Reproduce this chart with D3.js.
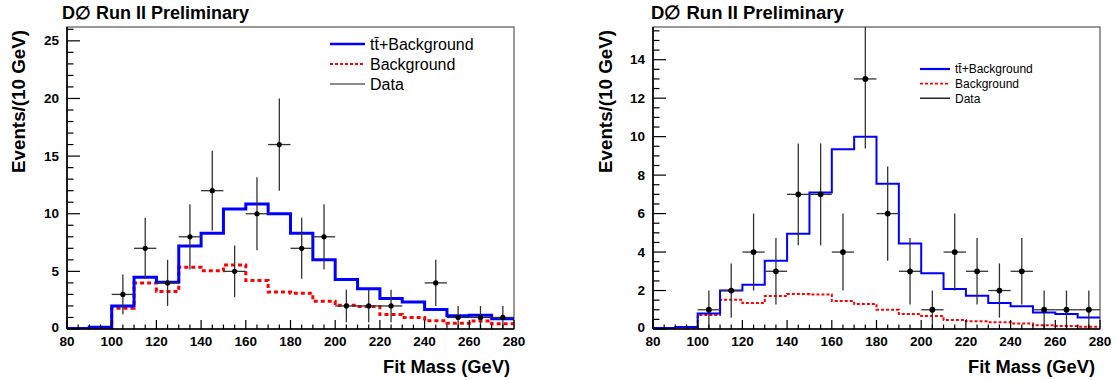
<!DOCTYPE html>
<html>
<head>
<meta charset="utf-8">
<script src="https://cdn.jsdelivr.net/npm/d3@7"></script>
<style>
  html, body { margin: 0; padding: 0; background: #fff; }
  svg { display: block; }
  text { font-family: "Liberation Sans", Arial, Helvetica, sans-serif; }
</style>
</head>
<body>
<svg id="chart" width="1117" height="380"></svg>
<script>
// Fit-mass histograms: lower bin edges (10 GeV bins, 80-280 GeV)
const binLow = [80, 90, 100, 110, 120, 130, 140, 150, 160, 170, 180, 190, 200, 210, 220, 230, 240, 250, 260, 270];
const binWidth = 10;

// Left selection
const leftSignalBkg = [0.05, 0.15, 2.0, 4.5, 4.05, 7.2, 8.3, 10.4, 10.85, 10.0, 8.3, 6.0, 4.3, 3.5, 2.65, 2.35, 1.7, 1.15, 1.2, 0.9];
const leftBkg       = [0.02, 0.1, 1.8, 4.0, 3.25, 5.35, 5.05, 5.55, 4.2, 3.2, 3.1, 2.4, 2.05, 1.95, 1.25, 1.0, 0.72, 0.5, 0.7, 0.45];
const leftData      = [0, 0, 3, 7, 4, 8, 12, 5, 10, 16, 7, 8, 2, 2, 2, 0, 4, 1, 1, 1];
const leftErr       = [0, 0, 1.73, 2.65, 2, 2.83, 3.46, 2.24, 3.16, 4, 2.65, 2.83, 1.41, 1.41, 1.41, 0, 2, 1, 1, 1];

// Right selection
const rightSignalBkg = [0.05, 0.1, 0.8, 2.0, 2.3, 3.55, 4.95, 7.1, 9.35, 10.0, 7.55, 4.45, 2.9, 2.08, 1.73, 1.35, 1.18, 0.86, 0.78, 0.6];
const rightBkg       = [0.02, 0.05, 0.73, 1.52, 1.35, 1.72, 1.82, 1.8, 1.45, 1.3, 1.0, 0.78, 0.68, 0.47, 0.4, 0.35, 0.28, 0.2, 0.15, 0.12];
const rightData      = [0, 0, 1, 2, 4, 3, 7, 7, 4, 13, 6, 3, 1, 4, 3, 2, 3, 1, 1, 1];
const rightErr       = [0, 0, 1, 1.41, 2, 1.73, 2.65, 2.65, 2, 3.61, 2.45, 1.73, 1, 2, 1.73, 1.41, 1.73, 1, 1, 1];

// Axis labels
const xTickLabels = [80, 100, 120, 140, 160, 180, 200, 220, 240, 260, 280];
const leftYTickLabels = [0, 5, 10, 15, 20, 25];
const rightYTickLabels = [0, 2, 4, 6, 8, 10, 12, 14];
const titleText = "D\u2205 Run II Preliminary";
const yTitle = "Events/(10 GeV)";
const xTitle = "Fit Mass (GeV)";
const legendLabels = ["t\u0304+Background", "Background", "Data"];

const svg = d3.select("#chart");

function drawPanel(cfg, id) {
  const g = svg.append("g");
  const x = d3.scaleLinear().domain([80, 280]).range([cfg.x0, cfg.x1]);
  const y = d3.scaleLinear().domain([0, cfg.yMax]).range([cfg.y1, cfg.y0]);

  const clipId = "clip-" + id;
  svg.append("clipPath").attr("id", clipId)
    .append("rect").attr("x", cfg.x0).attr("y", cfg.y0)
    .attr("width", cfg.x1 - cfg.x0).attr("height", cfg.y1 - cfg.y0);

  // frame
  g.append("rect").attr("x", cfg.x0).attr("y", cfg.y0)
    .attr("width", cfg.x1 - cfg.x0).attr("height", cfg.y1 - cfg.y0)
    .attr("fill", "none").attr("stroke", "#555").attr("stroke-width", 1.2);

  const plot = g.append("g").attr("clip-path", `url(#${clipId})`);

  // histograms as steps
  const stepPts = vals => binLow.map((b, i) => [b, vals[i]]).concat([[binLow[binLow.length - 1] + binWidth, vals[vals.length - 1]]]);
  const step = d3.line().x(d => x(d[0])).y(d => y(d[1])).curve(d3.curveStepAfter);

  plot.append("path").attr("d", step(stepPts(cfg.bkg)))
    .attr("fill", "none").attr("stroke", "#ff0000").attr("stroke-width", cfg.histW)
    .attr("stroke-dasharray", cfg.dash);
  plot.append("path").attr("d", step(stepPts(cfg.sig)))
    .attr("fill", "none").attr("stroke", "#0000ff").attr("stroke-width", cfg.histW);

  // data points with error bars
  const pts = binLow.map((b, i) => ({ c: b + binWidth / 2, v: cfg.data[i], e: cfg.err[i] })).filter(d => d.v > 0);
  const dg = plot.append("g").attr("stroke", cfg.errColor).attr("stroke-width", 1.3);
  dg.selectAll("line.v").data(pts).join("line").attr("class", "v")
    .attr("x1", d => x(d.c)).attr("x2", d => x(d.c))
    .attr("y1", d => y(d.v - d.e)).attr("y2", d => y(d.v + d.e));
  dg.selectAll("line.h").data(pts).join("line").attr("class", "h")
    .attr("x1", d => x(d.c - binWidth / 2)).attr("x2", d => x(d.c + binWidth / 2))
    .attr("y1", d => y(d.v)).attr("y2", d => y(d.v));
  plot.selectAll("circle").data(pts).join("circle")
    .attr("cx", d => x(d.c)).attr("cy", d => y(d.v)).attr("r", cfg.markR).attr("fill", "#000");

  // axes lines
  g.append("line").attr("x1", cfg.x0).attr("x2", cfg.x0).attr("y1", cfg.y0).attr("y2", cfg.y1)
    .attr("stroke", "#000").attr("stroke-width", 1.6);
  g.append("line").attr("x1", cfg.x0).attr("x2", cfg.x1).attr("y1", cfg.y1).attr("y2", cfg.y1)
    .attr("stroke", "#000").attr("stroke-width", 1.6);

  // y ticks (inside)
  const yMinor = d3.range(0, cfg.yMax + 1e-9, cfg.yMinorStep);
  g.selectAll("line.ymin").data(yMinor).join("line").attr("class", "ymin")
    .attr("x1", cfg.x0).attr("x2", d => cfg.x0 + (cfg.yLabels.includes(+d.toFixed(3)) ? 13 : 6.5))
    .attr("y1", d => y(d)).attr("y2", d => y(d))
    .attr("stroke", "#000").attr("stroke-width", 1.2);
  g.selectAll("text.ylab").data(cfg.yLabels).join("text").attr("class", "ylab")
    .attr("x", cfg.x0 - 8).attr("y", d => y(d) - (d === 0 ? 2 : 0)).attr("dy", "0.34em")
    .attr("text-anchor", "end").attr("font-weight", "bold").attr("font-size", cfg.tickFont)
    .text(d => d);

  // x ticks (inside)
  const xMinor = d3.range(80, 280 + 1e-9, 5);
  g.selectAll("line.xmin").data(xMinor).join("line").attr("class", "xmin")
    .attr("x1", d => x(d)).attr("x2", d => x(d))
    .attr("y1", cfg.y1).attr("y2", d => cfg.y1 - (d % 20 === 0 ? 9 : 4.5))
    .attr("stroke", "#000").attr("stroke-width", 1.2);
  g.selectAll("text.xlab").data(xTickLabels).join("text").attr("class", "xlab")
    .attr("x", d => x(d)).attr("y", cfg.y1 + 17)
    .attr("text-anchor", "middle").attr("font-weight", "bold").attr("font-size", cfg.tickFont)
    .text(d => d);

  // titles
  g.append("text").attr("x", cfg.titleX).attr("y", 19)
    .attr("font-weight", "bold").attr("font-size", cfg.titleFont).text(titleText);
  g.append("text").attr("x", cfg.x1 + cfg.xTitleDx).attr("y", 373)
    .attr("text-anchor", "end").attr("font-weight", "bold").attr("font-size", 18.3).text(xTitle);
  g.append("text")
    .attr("transform", `translate(${cfg.yTitleX},30) rotate(-90)`)
    .attr("text-anchor", "end").attr("font-weight", "bold").attr("font-size", 18.8).text(yTitle);

  // legend
  const lg = g.append("g");
  const styles = [
    { stroke: "#0000ff", dash: null, w: cfg.legW },
    { stroke: "#ff0000", dash: "3,2", w: cfg.legW * 0.75 },
    { stroke: cfg.legDataColor, dash: null, w: 1.3 }
  ];
  legendLabels.forEach((lab, i) => {
    const ly = cfg.legY + i * cfg.legDy;
    lg.append("line").attr("x1", cfg.legX).attr("x2", cfg.legX + cfg.legLen)
      .attr("y1", ly).attr("y2", ly)
      .attr("stroke", styles[i].stroke).attr("stroke-width", styles[i].w)
      .attr("stroke-dasharray", styles[i].dash);
    const t = lg.append("text").attr("x", cfg.legX + cfg.legLen + 5).attr("y", ly).attr("dy", "0.36em")
      .attr("font-size", cfg.legFont);
    if (i === 0) {
      t.append("tspan").text("t");
      t.append("tspan").text(lab);
    } else {
      t.text(lab);
    }
  });
}

drawPanel({
  x0: 67, x1: 514, y0: 27, y1: 329, yMax: 26.2,
  sig: leftSignalBkg, bkg: leftBkg, data: leftData, err: leftErr,
  yLabels: leftYTickLabels, yMinorStep: 1, tickFont: 13.5,
  histW: 3, dash: "4,3", markR: 2.6, errColor: "#333",
  titleX: 62, titleFont: 18, yTitleX: 25, xTitleDx: -4,
  legX: 330, legY: 44, legDy: 20, legLen: 35, legFont: 16, legW: 2.5, legDataColor: "#666"
}, "left");

drawPanel({
  x0: 653, x1: 1100, y0: 27, y1: 329, yMax: 15.7,
  sig: rightSignalBkg, bkg: rightBkg, data: rightData, err: rightErr,
  yLabels: rightYTickLabels, yMinorStep: 0.5, tickFont: 13.5,
  histW: 2, dash: "3,2", markR: 2.9, errColor: "#333",
  titleX: 651, titleFont: 18.5, yTitleX: 612, xTitleDx: -5,
  legX: 920, legY: 69, legDy: 14.6, legLen: 30, legFont: 12, legW: 2.2, legDataColor: "#000"
}, "right");
</script>
</body>
</html>
